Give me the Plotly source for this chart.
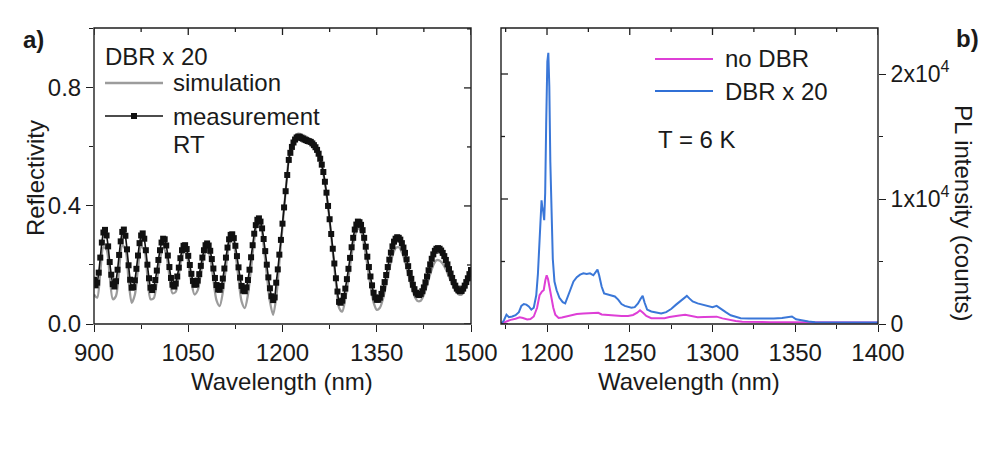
import plotly.graph_objects as go

# ---------------- data: panel a (reflectivity) ----------------
# measurement: one point every 2.5 nm from 900 to 1500 nm
refl_meas_wavelength = [900 + 2.5 * i for i in range(241)]
refl_measured = [
    0.15, 0.131, 0.14, 0.174, 0.225, 0.276, 0.31, 0.319, 0.30, 0.263,
    0.21, 0.167, 0.135, 0.127, 0.145, 0.184, 0.234, 0.28, 0.312, 0.32,
    0.299, 0.253, 0.199, 0.15, 0.123, 0.125, 0.148, 0.187, 0.232, 0.274,
    0.30, 0.307, 0.289, 0.25, 0.201, 0.155, 0.123, 0.115, 0.125, 0.149,
    0.181, 0.217, 0.25, 0.276, 0.289, 0.287, 0.266, 0.232, 0.193, 0.156,
    0.133, 0.127, 0.137, 0.161, 0.191, 0.223, 0.25, 0.265, 0.267, 0.254,
    0.231, 0.20, 0.17, 0.146, 0.133, 0.134, 0.147, 0.169, 0.197, 0.225,
    0.25, 0.267, 0.273, 0.266, 0.248, 0.22, 0.188, 0.156, 0.132, 0.117,
    0.116, 0.129, 0.154, 0.188, 0.225, 0.259, 0.287, 0.302, 0.304, 0.291,
    0.265, 0.23, 0.192, 0.157, 0.129, 0.113, 0.111, 0.124, 0.149, 0.184,
    0.226, 0.267, 0.306, 0.335, 0.353, 0.358, 0.347, 0.324, 0.288, 0.247,
    0.201, 0.158, 0.121, 0.094, 0.081, 0.09, 0.14, 0.185, 0.235, 0.285,
    0.34, 0.395, 0.45, 0.505, 0.556, 0.58, 0.60, 0.615, 0.625, 0.632,
    0.635, 0.634, 0.63, 0.628, 0.625, 0.623, 0.62, 0.619, 0.617, 0.612,
    0.606, 0.599, 0.59, 0.577, 0.56, 0.54, 0.515, 0.482, 0.445, 0.40,
    0.355, 0.305, 0.255, 0.205, 0.155, 0.11, 0.075, 0.072, 0.079, 0.095,
    0.12, 0.152, 0.187, 0.224, 0.26, 0.292, 0.32, 0.337, 0.347, 0.345,
    0.336, 0.318, 0.292, 0.262, 0.228, 0.193, 0.161, 0.131, 0.106, 0.09,
    0.082, 0.082, 0.089, 0.102, 0.12, 0.142, 0.166, 0.193, 0.218, 0.242,
    0.263, 0.279, 0.289, 0.294, 0.292, 0.286, 0.274, 0.259, 0.241, 0.219,
    0.196, 0.173, 0.153, 0.133, 0.118, 0.106, 0.10, 0.098, 0.102, 0.111,
    0.124, 0.141, 0.161, 0.182, 0.202, 0.221, 0.236, 0.248, 0.255, 0.257,
    0.255, 0.249, 0.241, 0.23, 0.217, 0.202, 0.186, 0.171, 0.156, 0.142,
    0.13, 0.12, 0.114, 0.111, 0.112, 0.12, 0.13, 0.142, 0.155, 0.169,
    0.183,
]
# simulation: one point every 5 nm
refl_sim_wavelength = list(range(900, 1501, 5))
refl_simulated = [
    0.10, 0.089, 0.175, 0.26, 0.252, 0.163, 0.084, 0.095, 0.186, 0.266,
    0.253, 0.15, 0.072, 0.099, 0.189, 0.262, 0.252, 0.163, 0.084, 0.087,
    0.145, 0.218, 0.259, 0.236, 0.163, 0.104, 0.109, 0.167, 0.23, 0.249,
    0.209, 0.141, 0.10, 0.114, 0.17, 0.23, 0.255, 0.224, 0.15, 0.08,
    0.061, 0.107, 0.193, 0.268, 0.289, 0.241, 0.153, 0.076, 0.054, 0.099,
    0.189, 0.284, 0.339, 0.333, 0.266, 0.167, 0.076, 0.031, 0.09, 0.21,
    0.33, 0.45, 0.56, 0.61, 0.635, 0.645, 0.643, 0.638, 0.632, 0.625,
    0.612, 0.594, 0.56, 0.51, 0.44, 0.35, 0.245, 0.14, 0.055, 0.042,
    0.086, 0.157, 0.234, 0.296, 0.324, 0.313, 0.268, 0.20, 0.13, 0.073,
    0.048, 0.055, 0.086, 0.133, 0.186, 0.231, 0.257, 0.26, 0.243, 0.212,
    0.169, 0.128, 0.095, 0.078, 0.079, 0.099, 0.132, 0.168, 0.199, 0.216,
    0.215, 0.204, 0.185, 0.16, 0.135, 0.114, 0.101, 0.099, 0.115, 0.14,
    0.17,
]
refl_major_x = [900, 1050, 1200, 1350, 1500]
refl_minor_x = [975, 1125, 1275, 1425]
refl_major_y = [0.0, 0.4, 0.8]
refl_minor_y = [0.2, 0.6, 1.0]

# ---------------- data: panel b (PL) ----------------
pl_dbr_wavelength = [
    1172.5, 1174, 1175.5, 1177, 1179, 1181, 1183, 1184.5, 1186, 1187.5,
    1189, 1190.5, 1192, 1193.5, 1194.5, 1195.5, 1196.2, 1196.7, 1197.2, 1197.7,
    1198.3, 1198.9, 1199.5, 1200.2, 1200.8, 1201.4, 1202.0, 1202.7, 1203.5, 1204.5,
    1205.8, 1207.5, 1209.5, 1211, 1212.5, 1214, 1216, 1218, 1220, 1222,
    1224, 1226, 1228, 1229.5, 1230.5, 1231.5, 1233, 1234.5, 1237, 1239,
    1241, 1243, 1245, 1247, 1249, 1251, 1253, 1255, 1256.5, 1257.8,
    1259, 1260.5, 1263, 1266, 1269, 1272, 1275, 1278, 1281, 1283,
    1284.5, 1286, 1288, 1291, 1294, 1297, 1300, 1302.5, 1305, 1308,
    1311, 1314, 1317, 1322, 1327, 1332, 1337, 1342, 1346, 1348,
    1350.5, 1354, 1358, 1362, 1368, 1375, 1382, 1390, 1400,
]
pl_dbr_counts = [
    50, 300, 750, 550, 600, 700, 950, 1450, 1600, 1550,
    1400, 1150, 1300, 2300, 4000, 6500, 9200, 9900, 9300, 9000,
    8300, 10500, 16000, 21000, 21700, 19000, 13000, 8500, 5200, 3400,
    2700, 2100, 1750, 1650, 2100, 2700, 3400, 3750, 3950, 4050,
    4000, 4050, 3900, 4200, 4350, 3900, 3000, 2450, 2350, 2300,
    2200, 1950, 1600, 1450, 1350, 1300, 1350, 1650, 2000, 2250,
    1700, 1150, 1000, 950, 850, 950, 1200, 1550, 1850, 2100,
    2250, 2050, 1800, 1650, 1550, 1400, 1350, 1450, 1200, 950,
    700, 580, 470, 450, 440, 430, 450, 480, 550, 600,
    380, 270, 200, 150, 140, 130, 140, 130, 120,
]
pl_nodbr_wavelength = [
    1172.5, 1175, 1178, 1181, 1183.5, 1185.5, 1188, 1190, 1192, 1194,
    1195.5, 1197, 1198, 1199, 1199.8, 1200.6, 1201.5, 1202.5, 1203.8, 1205,
    1207, 1209, 1212, 1215, 1218, 1222, 1226, 1229, 1231, 1233,
    1237, 1241, 1245, 1249, 1252, 1254.5, 1256.2, 1258, 1260, 1263,
    1267, 1271, 1274, 1277, 1280, 1283.5, 1287, 1291, 1295, 1299,
    1302.5, 1306, 1310, 1314, 1318, 1325, 1335, 1345, 1355, 1365,
    1380, 1400,
]
pl_nodbr_counts = [
    50, 200, 330, 420, 540, 480, 360, 400, 600, 1300,
    2300, 2600, 2700, 3500, 3900, 3600, 3000, 2100, 1300, 750,
    480, 520, 600, 700, 800, 840, 850, 870, 900, 760,
    700, 680, 640, 650, 720, 900, 1100, 900, 650, 470,
    450, 460, 560, 650, 680, 730, 620, 540, 560, 590,
    590, 450, 330, 240, 190, 160, 140, 140, 130, 130,
    130, 120,
]
pl_major_x = [1200, 1250, 1300, 1350, 1400]
pl_minor_x = [1175, 1225, 1275, 1325, 1375]
pl_major_y = [0, 10000, 20000]
pl_minor_y = [5000, 15000]
pl_tick_text = ["0", "1x10<sup>4</sup>", "2x10<sup>4</sup>"]

# ---------------- styling ----------------
OFF = 8                      # page body margin of the html page
W, H = 1000 - OFF, 455 - OFF
FONT = "Liberation Sans, Arial, sans-serif"
AX = "#1e1e1e"
TXT = "#1a1a1a"
FS = 24
MAJ, MIN = 7, 4


def px(x):
    return (x - OFF) / W


def py(y):
    return 1 - (y - OFF) / H


ydom = [py(324), py(28)]
xdom_a = [px(94), px(471)]
xdom_b = [px(501), px(878)]
plot_h = 324 - 28
plot_w = 471 - 94

fig = go.Figure()

fig.add_trace(go.Scatter(
    x=refl_sim_wavelength, y=refl_simulated, name="simulation", mode="lines",
    line=dict(color="#9c9c9c", width=2.3, shape="spline", smoothing=0.8),
    xaxis="x", yaxis="y", showlegend=False))
fig.add_trace(go.Scatter(
    x=refl_meas_wavelength, y=refl_measured, name="measurement", mode="lines+markers",
    line=dict(color="#111111", width=1.6, shape="spline", smoothing=0.6),
    marker=dict(symbol="square", size=6, color="#111111"),
    xaxis="x", yaxis="y", showlegend=False))

fig.add_trace(go.Scatter(
    x=pl_nodbr_wavelength, y=pl_nodbr_counts, name="no DBR", mode="lines",
    line=dict(color="#de3fd6", width=2),
    xaxis="x2", yaxis="y2", showlegend=False))
fig.add_trace(go.Scatter(
    x=pl_dbr_wavelength, y=pl_dbr_counts, name="DBR x 20", mode="lines",
    line=dict(color="#3070d6", width=2), opacity=0.95,
    xaxis="x2", yaxis="y2", showlegend=False))


def axis(size=FS, **kw):
    d = dict(showgrid=False, zeroline=False, showline=False,
             tickcolor=AX, tickwidth=1.3, ticks="outside", ticklen=MAJ,
             tickfont=dict(family=FONT, size=size, color=TXT))
    d.update(kw)
    return d


def minor(vals):
    return dict(ticks="outside", ticklen=MIN, tickvals=vals, tickcolor=AX, tickwidth=1.2)


fig.update_layout(
    width=W, height=H, margin=dict(l=0, r=0, t=0, b=0, autoexpand=False),
    paper_bgcolor="white", plot_bgcolor="white",
    font=dict(family=FONT, size=FS, color=TXT),
    xaxis=axis(domain=xdom_a, anchor="y", range=[900, 1500], tickmode="array",
               tickvals=refl_major_x, minor=minor(refl_minor_x)),
    yaxis=axis(domain=ydom, anchor="x", range=[0, 1.003], tickmode="array",
               tickvals=refl_major_y, tickformat=".1f", minor=minor(refl_minor_y)),
    xaxis2=axis(domain=xdom_b, anchor="y2", range=[1172.2, 1400], tickmode="array",
                tickvals=pl_major_x, minor=minor(pl_minor_x)),
    yaxis2=axis(size=23, domain=ydom, anchor="x2", side="right", range=[0, 23680],
                tickmode="array", tickvals=pl_major_y, ticktext=pl_tick_text,
                minor=minor(pl_minor_y)),
)

shapes = []
# plot frames
for xr, yr in (("x domain", "y domain"), ("x2 domain", "y2 domain")):
    shapes.append(dict(type="rect", xref=xr, yref=yr, x0=0, x1=1, y0=0, y1=1,
                       line=dict(color=AX, width=1.4), fillcolor="rgba(0,0,0,0)",
                       layer="above"))

# inside ticks on the mirrored (unlabelled) sides
tick_line = dict(color=AX, width=1.3)
for vals, ln in ((refl_major_x, MAJ), (refl_minor_x, MIN)):
    for v in vals:
        shapes.append(dict(type="line", xref="x", yref="y domain", x0=v, x1=v,
                           y0=1, y1=1 - ln / plot_h, line=tick_line))
for vals, ln in ((refl_major_y, MAJ), (refl_minor_y, MIN)):
    for v in vals:
        shapes.append(dict(type="line", xref="x domain", yref="y", x0=1,
                           x1=1 - ln / plot_w, y0=v, y1=v, line=tick_line))
for vals, ln in ((pl_major_x, MAJ), (pl_minor_x, MIN)):
    for v in vals:
        shapes.append(dict(type="line", xref="x2", yref="y2 domain", x0=v, x1=v,
                           y0=1, y1=1 - ln / plot_h, line=tick_line))
for vals, ln in ((pl_major_y, MAJ), (pl_minor_y, MIN)):
    for v in vals:
        shapes.append(dict(type="line", xref="x2 domain", yref="y2", x0=0,
                           x1=ln / plot_w, y0=v, y1=v, line=tick_line))

# hand-drawn legend samples
shapes += [
    dict(type="line", xref="paper", yref="paper", x0=px(105), x1=px(163),
         y0=py(83), y1=py(83), line=dict(color="#9c9c9c", width=2.3)),
    dict(type="line", xref="paper", yref="paper", x0=px(105), x1=px(163),
         y0=py(116), y1=py(116), line=dict(color="#111111", width=1.6)),
    dict(type="rect", xref="paper", yref="paper", x0=px(131), x1=px(137),
         y0=py(119), y1=py(113), fillcolor="#111111", line=dict(width=0)),
    dict(type="line", xref="paper", yref="paper", x0=px(655), x1=px(713),
         y0=py(59), y1=py(59), line=dict(color="#de3fd6", width=2)),
    dict(type="line", xref="paper", yref="paper", x0=px(655), x1=px(713),
         y0=py(91), y1=py(91), line=dict(color="#3070d6", width=2)),
]
fig.update_layout(shapes=shapes)

ann = []


def text(x, y, s, xanchor="left", angle=0, bold=False):
    ann.append(dict(x=px(x), y=py(y), xref="paper", yref="paper", text=s,
                    showarrow=False, xanchor=xanchor, yanchor="middle",
                    textangle=angle,
                    font=dict(family=FONT, size=FS, color=TXT,
                              weight="bold" if bold else "normal")))


text(33, 40, "a)", xanchor="center", bold=True)
text(967, 38, "b)", xanchor="center", bold=True)
text(103, 57, "DBR x 20")
text(171, 83, "simulation")
text(171, 116, "measurement")
text(171, 145, "RT")
text(723, 59, "no DBR")
text(723, 91, "DBR x 20")
text(656, 139, "T = 6 K")
text(282, 381, "Wavelength (nm)", xanchor="center")
text(689, 381, "Wavelength (nm)", xanchor="center")
text(35, 178, "Reflectivity", xanchor="center", angle=-90)
text(964, 213, "PL intensity (counts)", xanchor="center", angle=90)
fig.update_layout(annotations=ann)

fig.write_html("out.html")
